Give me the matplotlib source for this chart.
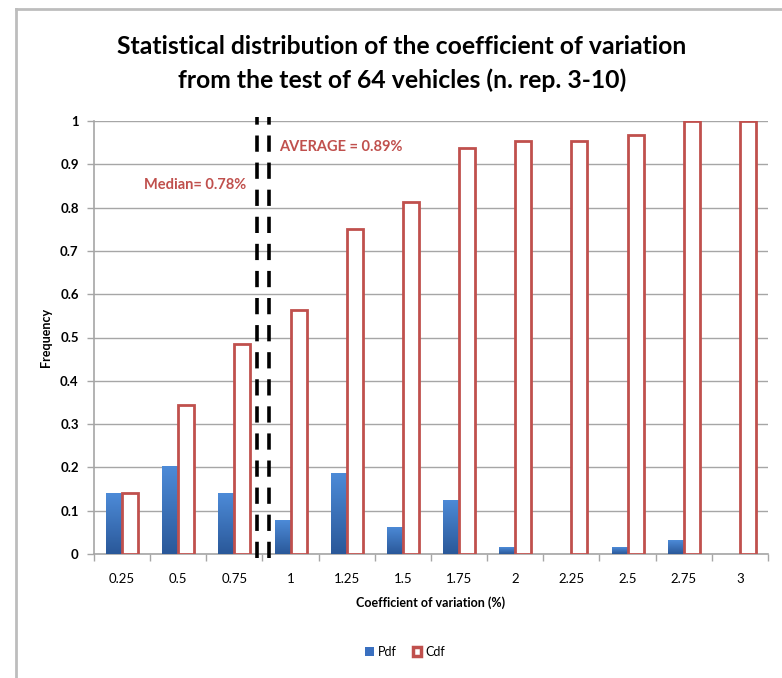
import numpy as np
import matplotlib
matplotlib.use('Agg')
import matplotlib.pyplot as plt
from matplotlib.lines import Line2D
from matplotlib.patches import Rectangle

plt.rcParams['font.family'] = ['Lato', 'DejaVu Sans']

# 系数分布数据
categories = ['0.25', '0.5', '0.75', '1', '1.25', '1.5', '1.75', '2', '2.25', '2.5', '2.75', '3']
pdf_vals = [0.1406, 0.2031, 0.1406, 0.0781, 0.1875, 0.0625, 0.125, 0.0156, 0.0, 0.0156, 0.0313, 0.0]
cdf_vals = [0.1406, 0.3438, 0.4844, 0.5625, 0.75, 0.8125, 0.9375, 0.9531, 0.9531, 0.9688, 1.0, 1.0]
y_ticks = [0.0, 0.1, 0.2, 0.3, 0.4, 0.5, 0.6, 0.7, 0.8, 0.9, 1.0]
y_ticklabels = ['0', '0.1', '0.2', '0.3', '0.4', '0.5', '0.6', '0.7', '0.8', '0.9', '1']

# 竖线位置(类别坐标)
median_line = 2.41
average_line = 2.62
median_text = 'Median= 0.78%'
average_text = 'AVERAGE = 0.89%'

BLUE_TOP = '#4d8bd8'
BLUE_BOT = '#2a5899'
RED = '#c0504d'
GRID = '#a6a6a6'

fig = plt.figure(figsize=(7.82, 6.78), dpi=100)
ax = fig.add_axes([94 / 782, 124 / 678, 674 / 782, 433 / 678])

x = np.arange(len(categories))
w = 0.285

# 蓝色渐变柱
grad = np.linspace(0, 1, 256).reshape(-1, 1)
cmap = matplotlib.colors.LinearSegmentedColormap.from_list('b', [BLUE_BOT, BLUE_TOP])
for xi, v in zip(x, pdf_vals):
    if v <= 0:
        continue
    rect = Rectangle((xi - w, 0), w, v, facecolor='none', edgecolor='none')
    ax.add_patch(rect)
    im = ax.imshow(grad, cmap=cmap, aspect='auto', origin='lower',
                   extent=(xi - w, xi, 0, v), zorder=3)
    im.set_clip_path(rect)

# Cdf 空心柱
ax.bar(x + w / 2, cdf_vals, width=w, facecolor='white', edgecolor=RED,
       linewidth=2, zorder=3)

ax.set_xlim(-0.5, len(categories) - 0.5)
ax.set_ylim(0, 1)
ax.set_yticks(y_ticks)
ax.set_yticklabels(y_ticklabels, fontweight='bold', fontsize=9.5)
ax.set_xticks(x)
ax.set_xticklabels(categories, fontsize=9.5)
ax.set_xticks(np.arange(-0.5, len(categories), 1), minor=True)
ax.tick_params(axis='x', which='major', length=0, pad=14)
ax.tick_params(axis='x', which='minor', length=5, color=GRID, width=1)
ax.tick_params(axis='y', length=5, color=GRID, width=1, pad=6)
ax.grid(axis='y', color=GRID, linewidth=1, zorder=0)
ax.set_axisbelow(True)
for s in ['top', 'right']:
    ax.spines[s].set_visible(False)
for s in ['left', 'bottom']:
    ax.spines[s].set_color(GRID)
    ax.spines[s].set_linewidth(1.2)

# 中位数和平均值虚线
for lx in (median_line, average_line):
    ax.plot([lx, lx], [-0.01, 1.01], color='black', linewidth=2.6,
            linestyle=(0, (4.5, 3)), zorder=5, clip_on=False)

ax.text(median_line - 0.2, 0.853, median_text, color=RED, fontsize=10.5,
        fontweight='bold', ha='right', va='center')
ax.text(average_line + 0.18, 0.94, average_text, color=RED, fontsize=10.5,
        fontweight='bold', ha='left', va='center')

ax.set_ylabel('Frequency', fontsize=9, fontweight='bold', labelpad=6)
ax.set_xlabel('Coefficient of variation (%)', fontsize=9, fontweight='bold', labelpad=8)

fig.text(402 / 782, 1 - 47 / 678, 'Statistical distribution of the coefficient of variation',
         ha='center', va='center', fontsize=17.8, fontweight='bold')
fig.text(402 / 782, 1 - 80 / 678, 'from the test of 64 vehicles (n. rep. 3-10)',
         ha='center', va='center', fontsize=17.8, fontweight='bold')

# 图例
handles = [Rectangle((0, 0), 1, 1, facecolor='#3a70c0', edgecolor='none'),
           Rectangle((0, 0), 1, 1, facecolor='white', edgecolor=RED, linewidth=2.5)]
fig.legend(handles, ['Pdf', 'Cdf'], loc='center', bbox_to_anchor=(405 / 782, 1 - 652 / 678),
           ncol=2, frameon=False, fontsize=9, handlelength=0.7, handleheight=0.7,
           handletextpad=0.3, columnspacing=1.3)

# 外框
fig.add_artist(Line2D([16 / 782, 16 / 782], [0, 1 - 9 / 678], color='#bdbdbd', linewidth=2,
                      transform=fig.transFigure))
fig.add_artist(Line2D([16 / 782, 1], [1 - 9 / 678, 1 - 9 / 678], color='#bdbdbd', linewidth=2,
                      transform=fig.transFigure))

fig.savefig('out.png', dpi=100)
